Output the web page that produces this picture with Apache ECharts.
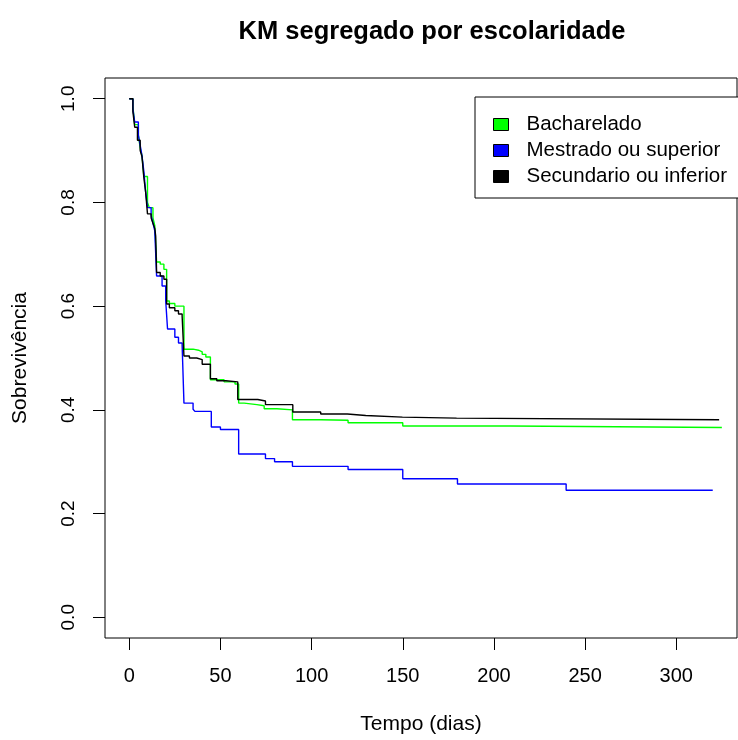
<!DOCTYPE html>
<html>
<head>
<meta charset="utf-8">
<script src="https://cdn.jsdelivr.net/npm/echarts@6/dist/echarts.min.js"></script>
<style>html,body{margin:0;padding:0;background:#fff}#chart{width:738px;height:740px}</style>
</head>
<body>
<div id="chart"></div>
<script>
const chartTitle = 'KM segregado por escolaridade';
const seriesNames = ['Bacharelado', 'Mestrado ou superior', 'Secundario ou inferior'];
const xTicks = [0, 50, 100, 150, 200, 250, 300];
const yTicks = [0, 0.2, 0.4, 0.6, 0.8, 1.0];

const bachTime = [0, 2, 3, 5, 6, 7, 8, 10, 11, 13, 14, 15, 17, 19, 20.5, 22, 25, 30, 35, 38, 40, 42, 44.5, 52, 58, 60, 63, 70, 74, 81, 89.5, 105, 120, 150, 209, 325];
const bachSurv = [1, 0.985, 0.95, 0.93, 0.905, 0.89, 0.85, 0.80, 0.79, 0.77, 0.755, 0.685, 0.681, 0.671, 0.61, 0.605, 0.60, 0.517, 0.515, 0.512, 0.507, 0.502, 0.458, 0.454, 0.45, 0.413, 0.41, 0.408, 0.402, 0.40, 0.381, 0.38, 0.375, 0.369, 0.366, 0.366];

const mestTime = [0, 2, 3, 5, 6, 7, 8, 9, 10, 12, 13, 14, 15, 18, 20, 21, 25, 27, 29, 30, 35, 36, 45, 50, 60, 74.7, 79.7, 89.5, 120, 150, 180, 239.6, 320];
const mestSurv = [1, 0.98, 0.955, 0.93, 0.91, 0.89, 0.86, 0.82, 0.79, 0.775, 0.76, 0.745, 0.658, 0.639, 0.61, 0.556, 0.54, 0.529, 0.525, 0.413, 0.401, 0.397, 0.367, 0.362, 0.315, 0.306, 0.30, 0.291, 0.285, 0.267, 0.257, 0.245, 0.245];

const secTime = [0, 2, 3, 4.5, 6, 7, 8, 9, 10, 12, 13, 14, 14.5, 15, 17, 19, 20.5, 22, 25, 27, 29, 30, 33, 37, 40, 44.5, 48, 53, 59.5, 70.5, 74.7, 89.7, 105, 119.6, 129.7, 149.8, 179.5, 323.5];
const secSurv = [1, 0.975, 0.945, 0.92, 0.90, 0.888, 0.848, 0.82, 0.778, 0.77, 0.76, 0.75, 0.735, 0.665, 0.658, 0.652, 0.604, 0.597, 0.591, 0.585, 0.581, 0.504, 0.50, 0.497, 0.488, 0.46, 0.456, 0.454, 0.42, 0.417, 0.41, 0.396, 0.392, 0.389, 0.386, 0.384, 0.381, 0.381];

const colors = ['#00FF00', '#0000FF', '#000000'];
const pairs = (t, s) => t.map((v, i) => [v, s[i]]);
const allData = [pairs(bachTime, bachSurv), pairs(mestTime, mestSurv), pairs(secTime, secSurv)];

const FONT = 'Liberation Sans, Arial, sans-serif';
const chart = echarts.init(document.getElementById('chart'), null, {renderer: 'canvas'});
chart.setOption({
  animation: false,
  backgroundColor: '#fff',
  title: {
    text: chartTitle,
    left: 427, top: 14, textAlign: 'center',
    textStyle: {fontFamily: FONT, fontSize: 25.5, fontWeight: 'bold', color: '#000'}
  },
  legend: {
    orient: 'vertical',
    left: 475, top: 97,
    backgroundColor: '#fff',
    borderColor: '#000', borderWidth: 1, borderRadius: 0,
    padding: [17, 30, 11, 18],
    itemGap: 5,
    itemWidth: 15, itemHeight: 12,
    icon: 'rect',
    itemStyle: {borderColor: '#000', borderWidth: 1},
    textStyle: {fontFamily: FONT, fontSize: 20.5, color: '#000', padding: [0, 0, 0, 13], lineHeight: 20},
    data: seriesNames
  },
  grid: {left: 105, right: 1, top: 78, bottom: 100, show: true, borderColor: '#000', borderWidth: 1, containLabel: false},
  xAxis: {
    type: 'value', min: -13.3, max: 333.3,
    axisLine: {show: false, onZero: false},
    splitLine: {show: false},
    axisTick: {show: true, inside: false, length: 12, lineStyle: {color: '#000'}, customValues: xTicks},
    axisLabel: {fontFamily: FONT, fontSize: 20, color: '#000', margin: 28, customValues: xTicks, formatter: v => String(v)},
    name: 'Tempo (dias)', nameLocation: 'middle', nameGap: 76,
    nameTextStyle: {fontFamily: FONT, fontSize: 21, color: '#000'}
  },
  yAxis: {
    type: 'value', min: -0.04, max: 1.04,
    axisLine: {show: false, onZero: false},
    splitLine: {show: false},
    axisTick: {show: true, inside: false, length: 12, lineStyle: {color: '#000'}, customValues: yTicks},
    axisLabel: {fontFamily: FONT, fontSize: 19, color: '#000', margin: 27, rotate: 90, customValues: yTicks, formatter: v => v.toFixed(1)},
    name: 'Sobrevivência', nameLocation: 'middle', nameGap: 74, nameRotate: 90,
    nameTextStyle: {fontFamily: FONT, fontSize: 21, color: '#000'}
  },
  series: seriesNames.map((n, i) => ({
    name: n, type: 'line', step: 'end', data: allData[i],
    showSymbol: false, symbol: 'none',
    color: colors[i],
    itemStyle: {color: colors[i]},
    lineStyle: {color: colors[i], width: 1.4},
    z: 2 + i
  }))
});
</script>
</body>
</html>
